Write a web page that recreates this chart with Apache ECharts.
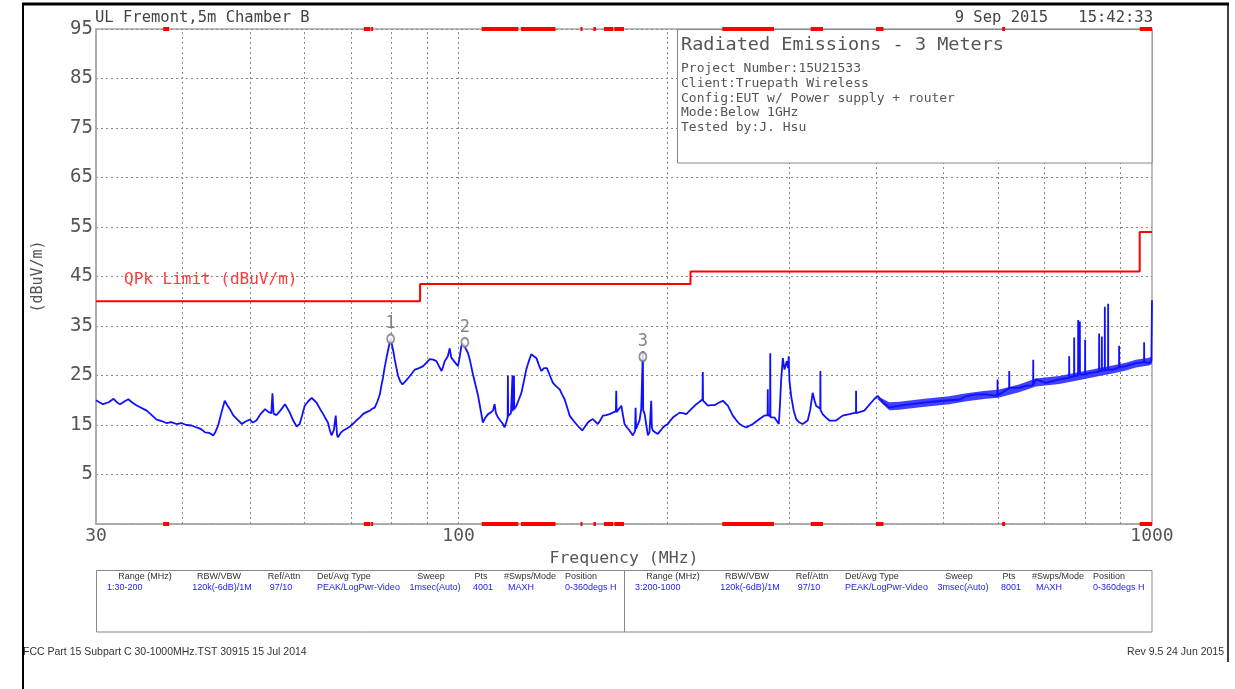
<!DOCTYPE html>
<html><head><meta charset="utf-8">
<script src="https://cdn.jsdelivr.net/npm/echarts@6/dist/echarts.min.js"></script>
<style>html,body{margin:0;padding:0;background:#fff}#c{width:1235px;height:689px}</style>
</head><body><div id="c"></div>
<script>
// ---- data ----
const xMinMHz = 30, xMaxMHz = 1000;
const yMin = -5, yMax = 95, yStep = 10;
const xGridMHz = [40,50,60,70,80,90,100,200,300,400,500,600,700,800,900];
// QPk limit (dBuV/m), stepped
const limitLine = [[30,40],[88,40],[88,43.5],[216,43.5],[216,46],[960,46],[960,54],[1000,54]];
// restricted bands shown as red bars on top/bottom edges (MHz)
const restrictedBands = [[37.5,38.25],[73,74.6],[74.8,75.2],[108,121.94],[123,138],[149.9,150.05],
  [156.52475,156.52525],[156.7,156.9],[162.0125,167.17],[167.72,173.2],[240,285],[322,335.4],
  [399.9,410],[608,614],[960,1240]];
// markers: [MHz, dBuV/m, id]
const markers = [[79.8,32.4,'1'],[102.1,31.7,'2'],[184.4,28.8,'3']];
// peak trace [MHz, dBuV/m]
const trace = [
[30.0,20.0],[30.1,20.2],[30.7,19.2],[31.3,19.6],[31.8,20.3],[32.2,19.5],[32.5,19.2],[33.0,19.8],[33.4,20.2],[33.8,19.6],
[34.3,19.0],[35.5,17.9],[36.1,17.0],[36.7,16.1],[37.3,15.8],[37.9,15.4],[38.5,15.6],[39.2,15.2],[39.8,15.4],[40.5,15.0],
[41.2,14.9],[41.9,14.5],[42.5,14.2],[43.1,13.5],[43.7,13.4],[44.3,12.9],[44.6,13.6],[45.0,14.9],[45.5,17.5],[46.0,19.9],
[46.4,19.0],[46.8,18.2],[47.3,17.0],[47.9,16.2],[48.7,15.2],[49.3,15.7],[50.0,16.1],[50.5,15.5],[51.1,15.9],[51.8,17.2],
[52.6,18.2],[53.2,17.6],[53.7,17.4],[53.9,21.4],[54.1,17.3],[54.6,17.0],[55.4,18.0],[56.2,19.2],[57.1,17.5],[57.7,16.0],
[58.4,14.7],[59.0,15.2],[59.5,17.0],[60.0,18.9],[60.7,19.8],[61.4,20.5],[61.9,20.0],[62.4,19.5],[63.1,18.3],[63.8,17.2],
[64.3,16.3],[64.8,15.5],[65.2,14.0],[65.6,12.9],[66.1,14.0],[66.5,16.9],[66.8,13.0],[67.0,12.5],[67.6,13.4],[68.2,13.9],
[69.0,14.3],[69.7,14.7],[70.5,15.3],[71.2,15.9],[72.0,16.5],[72.8,17.2],[73.6,17.6],[74.5,17.9],[75.1,18.3],[75.7,18.5],
[76.4,19.8],[77.0,21.2],[77.4,23.0],[77.8,24.5],[78.2,26.5],[78.7,28.5],[79.1,30.0],[79.5,31.5],[79.8,32.4],[80.5,30.0],
[80.9,28.2],[81.8,24.9],[82.4,23.8],[83.0,23.2],[83.8,23.8],[84.6,24.5],[85.5,25.3],[86.5,26.2],[87.7,26.5],[88.9,26.9],
[89.9,27.6],[90.9,28.3],[91.9,28.2],[92.9,27.9],[93.7,26.9],[94.5,25.9],[95.0,26.8],[95.5,27.9],[96.5,28.9],[97.1,30.5],
[97.6,28.6],[98.2,28.3],[99.0,27.5],[99.8,26.9],[100.4,28.8],[100.9,30.9],[101.5,31.5],[102.1,31.9],[103.2,29.5],[103.8,28.2],
[104.9,25.2],[106.7,20.9],[108.4,15.5],[109.3,16.5],[110.3,17.2],[111.2,17.5],[112.1,17.9],[112.7,19.2],[113.2,17.4],[114.0,16.5],
[115.0,15.8],[115.9,15.2],[116.5,14.5],[117.2,15.6],[117.7,16.5],[117.8,25.0],[117.9,16.8],[118.5,17.2],[119.0,17.4],[119.5,17.6],
[119.6,25.0],[119.7,17.8],[120.1,18.0],[120.2,25.0],[120.3,18.2],[121.2,18.9],[122.2,20.2],[123.2,21.5],[124.2,23.8],[125.2,26.2],
[126.2,27.8],[127.3,29.3],[128.4,28.9],[129.5,28.5],[130.5,27.2],[131.6,25.9],[132.8,26.5],[134.1,26.5],[135.4,25.0],[136.8,23.5],
[138.3,22.8],[139.9,22.2],[141.0,21.2],[142.2,20.2],[143.4,18.6],[144.6,16.9],[146.2,16.0],[147.8,15.2],[149.3,14.5],[150.8,13.9],
[152.2,14.7],[153.6,15.5],[154.9,15.9],[156.2,16.2],[157.5,15.7],[158.8,15.2],[160.2,16.0],[161.5,16.9],[163.3,17.0],[165.1,17.2],
[166.9,17.5],[168.6,17.8],[168.8,21.9],[169.0,17.6],[169.7,17.5],[171.7,18.9],[172.6,17.0],[173.5,15.2],[174.9,14.5],[176.4,13.9],
[177.4,13.4],[178.4,12.9],[179.7,13.8],[180.0,18.5],[180.3,14.2],[181.4,14.5],[182.4,16.0],[183.4,18.2],[184.2,17.8],[184.4,29.9],
[184.6,18.0],[185.5,17.2],[186.5,15.0],[187.5,12.9],[188.5,13.5],[189.6,19.9],[190.0,14.5],[190.6,13.9],[192.2,13.5],[193.8,13.2],
[195.4,13.8],[197.1,14.5],[198.7,14.9],[200.4,15.2],[202.0,15.9],[203.7,16.5],[206.0,17.0],[208.3,17.5],[210.6,17.4],[213.0,17.2],
[216.5,18.2],[220.2,19.2],[222.6,19.7],[224.8,20.2],[225.0,25.7],[225.2,19.9],[228.8,18.9],[231.3,19.0],[233.9,19.0],[237.2,19.5],
[240.5,19.9],[244.5,18.9],[248.6,16.9],[251.4,16.0],[254.2,15.2],[257.0,14.8],[259.9,14.5],[265.7,15.2],[271.6,16.2],[276.2,16.9],
[279.0,17.0],[279.2,22.2],[279.4,17.0],[281.3,16.8],[281.5,29.5],[281.7,16.6],[285.5,16.5],[289.6,15.2],[290.7,19.0],[291.9,24.2],
[293.5,28.5],[295.1,26.2],[296.2,27.0],[297.3,27.9],[298.6,26.5],[299.3,28.9],[300.0,24.0],[301.7,20.9],[304.2,18.0],[306.8,16.2],
[310.1,15.5],[313.5,15.2],[318.8,15.9],[321.4,18.0],[324.1,21.5],[326.0,20.0],[327.8,18.9],[332.3,18.3],[332.5,25.9],[332.7,18.0],
[335.0,17.2],[338.8,16.5],[342.6,15.9],[350.3,15.9],[358.0,16.9],[366.1,17.2],[374.2,17.5],[374.3,21.9],[374.5,17.4],[376.3,17.2],
[384.7,17.9],[393.4,19.5],[398.0,20.3],[402.1,20.9],[410.0,19.5],[418.0,18.5],[432.1,18.9],[450.0,19.2],[469.5,19.5],[490.0,19.8],
[510.2,20.0],[527.4,20.1],[539.3,20.8],[557.4,21.2],[576.2,21.2],[598.5,20.9],[598.8,24.2],[599.1,21.0],[622.2,22.4],[622.5,25.9],
[622.8,22.5],[643.5,22.5],[658.0,22.9],[673.8,23.0],[674.1,28.2],[674.4,23.2],[680.1,24.2],[703.1,23.5],[734.8,24.2],[759.3,24.5],
[759.6,28.9],[759.9,24.6],[772.0,24.8],[772.3,32.7],[772.6,24.9],[782.3,25.0],[782.6,36.2],[782.9,25.1],[786.7,25.1],[787.0,35.9],
[787.3,25.2],[800.6,25.2],[800.9,32.2],[801.2,25.3],[820.0,25.6],[838.7,25.8],[839.0,33.5],[839.3,25.9],[846.3,26.0],[846.6,32.9],
[846.9,26.0],[854.7,26.1],[855.0,38.9],[855.3,26.1],[864.2,26.2],[864.5,39.5],[864.8,26.2],[876.9,26.2],[896.3,26.6],[896.6,31.0],
[896.9,26.7],[916.7,26.9],[947.8,27.5],[973.9,27.7],[974.2,31.7],[974.5,27.7],[990.5,27.5],[998.0,28.0],[999.0,28.3],[1000,40.2]
];
// noise envelope of the trace above 400 MHz: [MHz, low, high]
const noiseBand = [[402,20.2,20.8],[418,18.0,19.6],[432,18.1,19.7],[470,18.7,20.3],[510,19.2,20.8],[540,19.8,21.4],
  [576,20.3,21.9],[600,20.5,22.1],[643,21.6,23.2],[680,22.8,24.4],[735,23.3,24.9],[800,24.3,25.9],[840,24.9,26.5],
  [877,25.4,27.0],[917,26.0,27.6],[948,26.6,28.2],[990,27.0,28.6],[1000,27.3,28.9]];

const headerLeft = 'UL Fremont,5m Chamber B';
const headerDate = '9 Sep 2015';
const headerTime = '15:42:33';
const infoTitle = 'Radiated Emissions - 3 Meters';
const infoLines = ['Project Number:15U21533','Client:Truepath Wireless','Config:EUT w/ Power supply + router','Mode:Below 1GHz','Tested by:J. Hsu'];
const limitLabel = 'QPk Limit (dBuV/m)';
const tableHeaders = ['Range (MHz)','RBW/VBW','Ref/Attn','Det/Avg Type','Sweep','Pts','#Swps/Mode','Position'];
const tableRow1 = ['1:30-200','120k(-6dB)/1M','97/10','PEAK/LogPwr-Video','1msec(Auto)','4001','MAXH','0-360degs H'];
const tableRow2 = ['3:200-1000','120k(-6dB)/1M','97/10','PEAK/LogPwr-Video','3msec(Auto)','8001','MAXH','0-360degs H'];
const footerLeft = 'FCC Part 15 Subpart C 30-1000MHz.TST 30915 15 Jul 2014';
const footerRight = 'Rev 9.5 24 Jun 2015';

// ---- layout ----
const MONO = '"DejaVu Sans Mono", "Liberation Mono", monospace';
const SANS = '"Liberation Sans", Arial, sans-serif';
const G = {left:96, top:29, width:1056, height:495};

const graphic = [];
graphic.push({type:'line', shape:{x1:22,y1:4,x2:1229,y2:4}, style:{stroke:'#000', lineWidth:3}, z:300});
graphic.push({type:'line', shape:{x1:23,y1:3,x2:23,y2:689}, style:{stroke:'#000', lineWidth:2}, z:300});
graphic.push({type:'line', shape:{x1:1228,y1:3,x2:1228,y2:662}, style:{stroke:'#000', lineWidth:1.5}, z:300});
function txt(x,y,text,font,fill,align,z){
  graphic.push({type:'text', x:x, y:y, z:z||120, style:{text:text, font:font, fill:fill, align:align||'left', verticalAlign:'middle'}});
}
txt(95,18,headerLeft,'15.5px '+MONO,'#444');
txt(1048,18,headerDate,'15.5px '+MONO,'#444','right');
txt(1153,18,headerTime,'15.5px '+MONO,'#444','right');
// info box
graphic.push({type:'rect', z:100, shape:{x:677.5,y:29.5,width:474.5,height:133.5}, style:{fill:'#fff', stroke:'#888', lineWidth:1}});
txt(681,45,infoTitle,'18.5px '+MONO,'#555');
infoLines.forEach((t,i)=>txt(681,69+i*14.6,t,'13px '+MONO,'#555'));
// limit label
txt(124,280,limitLabel,'16px '+MONO,'#ff3b3b');
// table
graphic.push({type:'rect', z:100, shape:{x:96.5,y:570.5,width:1055.5,height:61.5}, style:{fill:'none', stroke:'#888', lineWidth:1}});
graphic.push({type:'line', z:100, shape:{x1:624.5,y1:570.5,x2:624.5,y2:632}, style:{stroke:'#888', lineWidth:1}});
const hdrPos = [[145,'center'],[219,'center'],[284,'center'],[317,'left'],[431,'center'],[481,'center'],[504,'left'],[565,'left']];
const valPos = [[107,'left'],[222,'center'],[281,'center'],[317,'left'],[435,'center'],[483,'center'],[508,'left'],[565,'left']];
[0,528].forEach((off,k)=>{
  tableHeaders.forEach((t,i)=>txt(hdrPos[i][0]+off,577,t,'9px '+SANS,'#333',hdrPos[i][1]));
  (k===0?tableRow1:tableRow2).forEach((t,i)=>txt(valPos[i][0]+off,588,t,'9px '+SANS,'#1a1aff',valPos[i][1]));
});
txt(23,652,footerLeft,'10.5px '+SANS,'#333');
txt(1224,652,footerRight,'10.5px '+SANS,'#333','right');

const chart = echarts.init(document.getElementById('c'), null, {renderer:'canvas'});
chart.setOption({
  animation:false,
  backgroundColor:'#fff',
  grid:{left:G.left, top:G.top, width:G.width, height:G.height, show:true, borderColor:'#a8a8a8', borderWidth:1.5, containLabel:false},
  xAxis:{type:'log', logBase:10, min:xMinMHz, max:xMaxMHz,
    name:'Frequency (MHz)', nameLocation:'middle', nameGap:22,
    nameTextStyle:{fontFamily:MONO, fontSize:16.5, color:'#555'},
    axisLine:{show:true, onZero:false, lineStyle:{color:'#a8a8a8', width:1.5}}, axisTick:{show:false},
    splitLine:{show:false}, minorSplitLine:{show:false},
    axisLabel:{fontFamily:MONO, fontSize:18, color:'#555', margin:3, showMinLabel:true, showMaxLabel:true,
      formatter:v=>String(Math.round(v))}},
  yAxis:{type:'value', min:yMin, max:yMax, interval:yStep,
    name:'(dBuV/m)', nameLocation:'middle', nameGap:50, nameRotate:90,
    nameTextStyle:{fontFamily:MONO, fontSize:15, color:'#555'},
    axisLine:{show:true, onZero:false, lineStyle:{color:'#a8a8a8', width:1.5}}, axisTick:{show:false},
    axisLabel:{fontFamily:MONO, fontSize:19, color:'#555', margin:3, formatter:v=>v<0?'':String(v)},
    splitLine:{show:true, lineStyle:{color:'#8a8a8a', type:[2,3], width:1}}},
  graphic: graphic,
  series:[
    {type:'line', name:'grid', data:[], silent:true, z:1,
      markLine:{silent:true, symbol:'none', label:{show:false}, animation:false,
        lineStyle:{color:'#8a8a8a', type:[2,3], width:1},
        data:xGridMHz.map(v=>({xAxis:v}))}},
    {type:'custom', name:'noise', z:8, silent:true, data:noiseBand,
      renderItem:function(params, api){
        if (params.dataIndex !== 0) return null;
        const pts = [];
        noiseBand.forEach(d=>pts.push(api.coord([d[0], d[2]])));
        for (let i=noiseBand.length-1;i>=0;i--) pts.push(api.coord([noiseBand[i][0], noiseBand[i][1]]));
        return {type:'polygon', shape:{points:pts}, style:{fill:'rgba(30,30,255,0.85)'}};
      }},
    {type:'line', name:'trace', data:trace, showSymbol:false, symbol:'none', z:10, silent:true,
      lineStyle:{color:'#1010ff', width:1.8}},
    {type:'line', name:'limit', data:limitLine, showSymbol:false, symbol:'none', z:11, silent:true,
      lineStyle:{color:'#ff0000', width:2}},
    {type:'scatter', name:'markers', z:12, silent:true,
      data:markers.map(m=>({value:[m[0],m[1]], name:m[2]})),
      symbol:'emptyCircle', symbolSize:[7,9],
      itemStyle:{color:'#777', borderColor:'#777', borderWidth:1.3},
      label:{show:true, position:'top', distance:1, formatter:'{b}', fontFamily:MONO, fontSize:17, color:'#666'}},
    {type:'custom', name:'bands', z:200, silent:true, clip:false,
      data:restrictedBands,
      renderItem:function(params, api){
        const f1 = api.value(0), f2 = Math.min(api.value(1), xMaxMHz);
        const children = [];
        [yMax, yMin].forEach(y=>{
          const p1 = api.coord([f1,y]), p2 = api.coord([f2,y]);
          children.push({type:'rect', shape:{x:p1[0], y:p1[1]-2, width:Math.max(p2[0]-p1[0],2), height:4}, style:{fill:'#ff0000'}});
        });
        return {type:'group', children:children};
      }}
  ]
});
</script></body></html>
